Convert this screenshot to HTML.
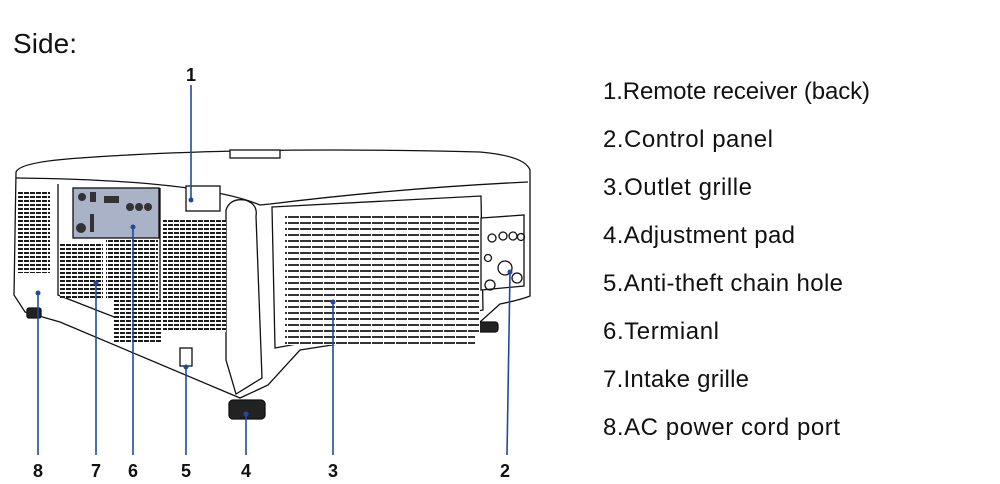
<!DOCTYPE html>
<html><head><meta charset="utf-8"><style>
html,body{margin:0;padding:0;background:#fff;}
svg{display:block}
text{font-family:"Liberation Sans",sans-serif;fill:#111}
</style></head><body>
<svg width="1000" height="484" viewBox="0 0 1000 484" xmlns="http://www.w3.org/2000/svg">
<defs>
<pattern id="g" width="6" height="4" patternUnits="userSpaceOnUse"><rect width="6" height="4" fill="#fff"/><rect x="0" y="0" width="5" height="2" fill="#1a1a1a"/></pattern>
<pattern id="g2" width="12" height="6" patternUnits="userSpaceOnUse"><rect width="12" height="6" fill="#fff"/><rect x="0" y="0" width="11" height="2" fill="#333"/></pattern>
</defs>
<text x="13" y="53" font-size="28" textLength="64">Side:</text>

<g stroke="#111" stroke-width="1.3" fill="#fff">
<path d="M16 172 Q20 162 80 158 Q250 146 480 152 Q525 156 530 170 L530 296 Q520 300 500 304 L480 322 L300 350 L268 385 L240 398 L60 322 L25 312 L14 295 Z"/>
<path d="M16 178 Q200 180 260 205 L270 204 Q400 188 528 182" fill="none"/>
<path d="M58 184 L58 295 L160 335 L160 188" fill="none"/>
<path d="M226 210 Q230 198 245 200 Q258 204 256 216 L262 378 L236 394 L226 360 Z"/>
<rect x="186" y="186" width="34" height="25" fill="#fff"/>
<path d="M272 207 L481 196 L483 310 L275 348 Z"/>
<path d="M481 218 L524 215 L524 286 L481 290 Z"/>
<rect x="73" y="188" width="86" height="50" fill="#a9b2c7"/>
<rect x="229" y="400" width="36" height="19" rx="4" fill="#222"/>
<rect x="476" y="322" width="22" height="10" rx="3" fill="#222"/>
<rect x="27" y="308" width="14" height="10" rx="2" fill="#222"/>
<rect x="180" y="348" width="12" height="18" fill="#fff"/>
<rect x="230" y="150" width="50" height="8" fill="#fff"/>
</g>
<rect x="17" y="191" width="33" height="82" fill="url(#g)"/>
<rect x="60" y="242" width="43" height="56" fill="url(#g)"/>
<rect x="106" y="240" width="52" height="60" fill="url(#g)"/>
<rect x="114" y="300" width="48" height="44" fill="url(#g)"/>
<rect x="163" y="220" width="63" height="112" fill="url(#g)"/>
<rect x="285" y="215" width="195" height="118" fill="url(#g2)"/>
<rect x="285" y="315" width="190" height="30" fill="url(#g2)"/>
<g fill="#333">
<circle cx="82" cy="197" r="4"/><rect x="90" y="192" width="6" height="10"/><rect x="104" y="196" width="15" height="7"/>
<circle cx="130" cy="207" r="4"/><circle cx="139" cy="207" r="4"/><circle cx="148" cy="207" r="4"/>
<rect x="90" y="214" width="4" height="18"/><circle cx="81" cy="228" r="5"/>
</g>
<g fill="none" stroke="#111" stroke-width="1.3">
<circle cx="492" cy="238" r="4"/><circle cx="503" cy="236" r="4"/><circle cx="513" cy="236" r="4"/><circle cx="521" cy="237" r="3.5"/>
<circle cx="488" cy="258" r="3.5"/><circle cx="505" cy="268" r="7"/><circle cx="490" cy="285" r="5"/><circle cx="517" cy="278" r="5"/>
</g>
<g stroke="#1f4aa0" stroke-width="1.6">
<line x1="191" y1="85" x2="191" y2="200"/>
<line x1="510" y1="272" x2="507" y2="455"/>
<line x1="333" y1="302" x2="333" y2="455"/>
<line x1="246" y1="414" x2="246" y2="455"/>
<line x1="186" y1="367" x2="186" y2="455"/>
<line x1="133" y1="227" x2="133" y2="455"/>
<line x1="96" y1="283" x2="96" y2="455"/>
<line x1="38" y1="293" x2="38" y2="455"/>
</g>
<g fill="#1f4aa0">
<circle cx="191" cy="200" r="2.5"/><circle cx="510" cy="272" r="2.5"/><circle cx="333" cy="302" r="2.5"/><circle cx="246" cy="414" r="2.5"/>
<circle cx="186" cy="367" r="2.5"/><circle cx="133" cy="227" r="2.5"/><circle cx="96" cy="283" r="2.5"/><circle cx="38" cy="293" r="2.5"/>
</g>
<g font-size="18" font-weight="bold" text-anchor="middle">
<text x="191" y="81">1</text>
<text x="505" y="477">2</text><text x="333" y="477">3</text><text x="246" y="477">4</text>
<text x="186" y="477">5</text><text x="133" y="477">6</text><text x="96" y="477">7</text><text x="38" y="477">8</text>
</g>
<g font-size="24">
<text x="603" y="99" textLength="267">1.Remote receiver (back)</text>
<text x="603" y="147" textLength="170">2.Control panel</text>
<text x="603" y="195" textLength="149">3.Outlet grille</text>
<text x="603" y="243" textLength="192">4.Adjustment pad</text>
<text x="603" y="291" textLength="240">5.Anti-theft chain hole</text>
<text x="603" y="339" textLength="116">6.Termianl</text>
<text x="603" y="387" textLength="146">7.Intake grille</text>
<text x="603" y="435" textLength="237">8.AC power cord port</text>
</g>
</svg>
</body></html>
